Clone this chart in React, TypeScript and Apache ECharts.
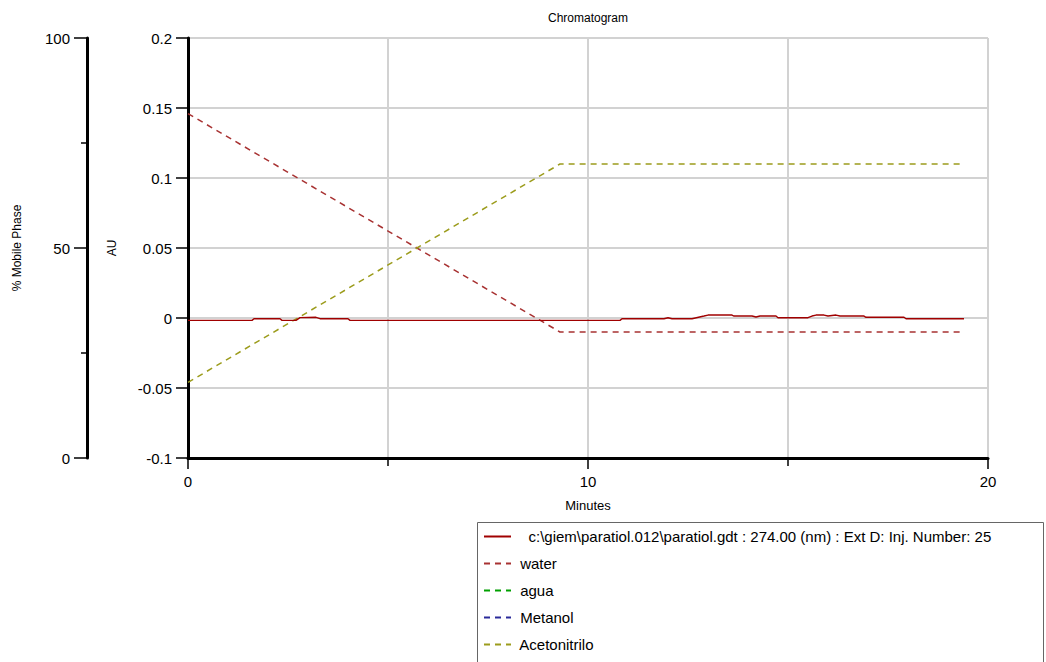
import React, { useEffect, useRef } from "react";
import * as echarts from "echarts";

const FONT = "Liberation Sans, Arial, sans-serif";

// Chromatogram trace (minutes, AU)
const chromTime = [0, 1.6, 1.65, 2.3, 2.35, 2.7, 2.8, 3.2, 3.3, 4.0, 4.05, 10.8, 10.85, 11.9, 12.0, 12.1, 12.6, 12.9, 13.0, 13.6, 13.65, 14.1, 14.2, 14.3, 14.7, 14.75, 15.5, 15.6, 15.7, 15.9, 16.0, 16.2, 16.3, 16.9, 16.95, 17.9, 17.95, 19.4];
const chromAU = [-0.0017, -0.0017, -0.0005, -0.0005, -0.0017, -0.0017, 0.0003, 0.0005, -0.0005, -0.0005, -0.0017, -0.0017, -0.0005, -0.0005, 0.0002, -0.0005, -0.0005, 0.0014, 0.0021, 0.0021, 0.0014, 0.0014, 0.0007, 0.0014, 0.0014, 0.0002, 0.0002, 0.0014, 0.0021, 0.0021, 0.0014, 0.0021, 0.0014, 0.0014, 0.0005, 0.0005, -0.0005, -0.0005];

// Gradient program (minutes, % mobile phase)
const gradTime = [0, 9.3, 19.4];
const waterPct = [82, 30, 30];
const acnPct = [18, 70, 70];
const aguaPct: number[] = [];
const metanolPct: number[] = [];

const chromName = "  c:\\giem\\paratiol.012\\paratiol.gdt : 274.00 (nm) : Ext D: Inj. Number: 25";
const seriesNames = [chromName, "water", "agua", "Metanol", "Acetonitrilo"];

const pairs = (xs: number[], ys: number[]) => ys.map((y, i) => [xs[i], y]);

export default function App() {
  const ref = useRef<HTMLDivElement>(null);
  useEffect(() => {
    if (!ref.current) return;
    const chart = echarts.init(ref.current, undefined, { renderer: "svg" });
    const axisText = { color: "#000", fontSize: 15, fontFamily: FONT };
    const lineDash = (color: string, data: number[][], name: string) => ({
      type: "line",
      name,
      yAxisIndex: 1,
      data,
      symbol: "none",
      lineStyle: { color, width: 1.5, type: [6, 5] },
      itemStyle: { color },
      z: 3,
    });
    chart.setOption({
      animation: false,
      backgroundColor: "#fff",
      title: {
        text: "Chromatogram",
        left: 588,
        textAlign: "center",
        top: 12,
        padding: 0,
        textStyle: { fontSize: 12, fontWeight: "normal", color: "#000", fontFamily: FONT },
      },
      grid: { left: 188, top: 38, width: 800, height: 420, containLabel: false },
      legend: {
        orient: "vertical",
        left: 483,
        top: 529,
        itemWidth: 27,
        itemHeight: 14,
        itemGap: 12,
        padding: 0,
        selectedMode: false,
        data: seriesNames,
        itemStyle: { opacity: 0 },
        formatter: (n: string) => " " + n,
        textStyle: { fontSize: 15, lineHeight: 14, color: "#000", fontFamily: FONT },
      },
      graphic: [
        {
          type: "rect",
          shape: { x: 477.5, y: 522.5, width: 566, height: 160 },
          style: { fill: "#fff", stroke: "#666", lineWidth: 1 },
          z: -1,
        },
      ],
      xAxis: {
        type: "value",
        min: 0,
        max: 20,
        interval: 10,
        name: "Minutes",
        nameLocation: "middle",
        nameGap: 41,
        nameTextStyle: { fontSize: 13, color: "#000", fontFamily: FONT },
        axisLine: { show: true, onZero: false, lineStyle: { color: "#000", width: 3 } },
        axisTick: { show: true, length: 11, lineStyle: { color: "#000", width: 1.5 } },
        minorTick: { show: true, splitNumber: 2, length: 8, lineStyle: { color: "#000", width: 1.5 } },
        axisLabel: { ...axisText, margin: 16 },
        splitLine: { show: true, lineStyle: { color: "#d2d2d2", width: 2 } },
        minorSplitLine: { show: true, lineStyle: { color: "#d2d2d2", width: 2 } },
      },
      yAxis: [
        {
          type: "value",
          min: -0.1,
          max: 0.2,
          interval: 0.05,
          position: "left",
          name: "AU",
          nameLocation: "middle",
          nameGap: 70,
          nameTextStyle: { fontSize: 12, color: "#000", fontFamily: FONT },
          axisLine: { show: true, onZero: false, lineStyle: { color: "#000", width: 3 } },
          axisTick: { show: true, length: 12, lineStyle: { color: "#000", width: 1.5 } },
          axisLabel: { ...axisText, margin: 16 },
          splitLine: { show: true, lineStyle: { color: "#d2d2d2", width: 2 } },
        },
        {
          type: "value",
          min: 0,
          max: 100,
          interval: 50,
          position: "left",
          offset: 101,
          name: "% Mobile Phase",
          nameLocation: "middle",
          nameGap: 64,
          nameTextStyle: { fontSize: 12, color: "#000", fontFamily: FONT },
          axisLine: { show: true, onZero: false, lineStyle: { color: "#000", width: 3 } },
          axisTick: { show: true, length: 13, lineStyle: { color: "#000", width: 1.5 } },
          minorTick: { show: true, splitNumber: 2, length: 6, lineStyle: { color: "#000", width: 1.5 } },
          axisLabel: { ...axisText, margin: 17 },
          splitLine: { show: false },
        },
      ],
      series: [
        {
          type: "line",
          name: chromName,
          yAxisIndex: 0,
          data: pairs(chromTime, chromAU),
          symbol: "none",
          lineStyle: { color: "#a00000", width: 1.4 },
          itemStyle: { color: "#a00000" },
          z: 4,
        },
        lineDash("#a83232", pairs(gradTime, waterPct), "water"),
        lineDash("#00a000", pairs(gradTime, aguaPct), "agua"),
        lineDash("#2a2a9a", pairs(gradTime, metanolPct), "Metanol"),
        lineDash("#9c9c1c", pairs(gradTime, acnPct), "Acetonitrilo"),
      ],
    });
    return () => chart.dispose();
  }, []);
  return (
    <div
      ref={ref}
      style={{ position: "fixed", left: 0, top: 0, width: 1046, height: 662, background: "#fff" }}
    />
  );
}
